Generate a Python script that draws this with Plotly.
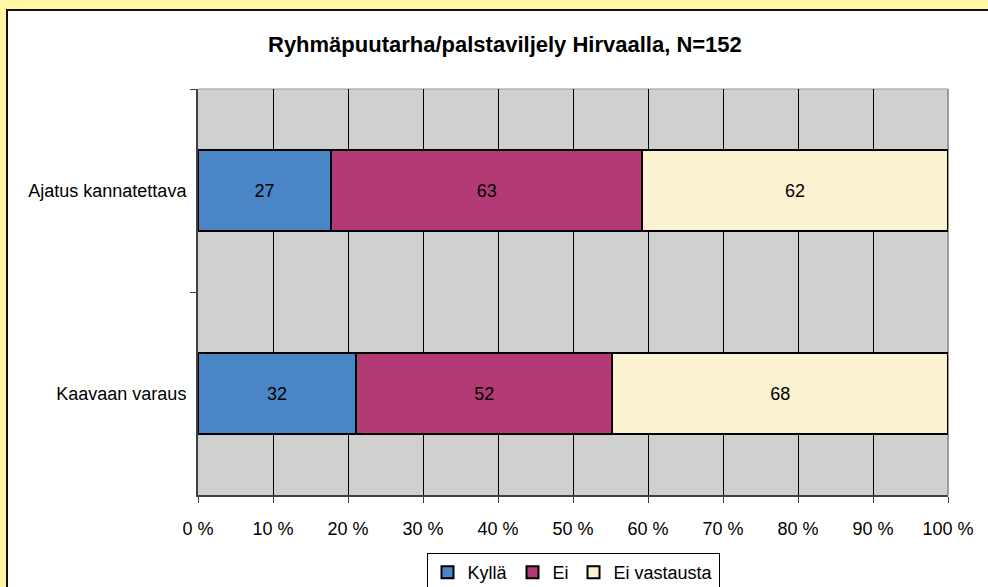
import plotly.graph_objects as go

# Survey results: community garden / allotment plots in Hirvaa (N=152)
questions = ["Ajatus kannatettava", "Kaavaan varaus"]
series_names = ["Kyllä", "Ei", "Ei vastausta"]
kylla = [27, 32]
ei = [63, 52]
ei_vastausta = [62, 68]
series_colors = ["#4A86C6", "#B33A74", "#FAF2D0"]
x_ticks = list(range(0, 101, 10))
x_tick_labels = [f"{v} %" for v in x_ticks]

title_text = "Ryhmäpuutarha/palstaviljely Hirvaalla, N=152"
FONT = "Liberation Sans, Arial, sans-serif"

W, H = 988, 587
L, R, T, B = 198, 40, 89, 92
pw, ph = W - L - R, H - T - B


def px_x(v):
    return (v - L) / pw


def px_y(v):
    return (H - B - v) / ph


fig = go.Figure()
for name, vals, col in zip(series_names, [kylla, ei, ei_vastausta], series_colors):
    fig.add_trace(go.Bar(
        name=name,
        y=questions,
        x=vals,
        orientation="h",
        width=0.4,
        marker=dict(color=col, line=dict(color="#000000", width=2)),
        text=vals,
        texttemplate="%{text}",
        textposition="inside",
        insidetextanchor="middle",
        textangle=0,
        constraintext="none",
        textfont=dict(family=FONT, size=18, color="#000000"),
        hoverinfo="skip",
    ))

shapes = [
    # white chart frame over the yellow page
    dict(type="rect", xref="paper", yref="paper", layer="below",
         x0=px_x(7), x1=px_x(1000), y0=px_y(10), y1=px_y(610),
         fillcolor="#FFFFFF", line=dict(color="#111111", width=2)),
    # grey plot area
    dict(type="rect", xref="paper", yref="paper", layer="below",
         x0=0, x1=1, y0=0, y1=1, fillcolor="#D0D0D0", line=dict(width=0)),
    # plot area top and right borders
    dict(type="line", xref="paper", yref="paper", layer="below",
         x0=0, x1=1, y0=1, y1=1, line=dict(color="#B4B4B4", width=1.5)),
    dict(type="line", xref="paper", yref="paper", layer="below",
         x0=1, x1=1, y0=0, y1=1, line=dict(color="#9A9A9A", width=2)),
]

fig.update_layout(
    width=W, height=H,
    margin=dict(l=L, r=R, t=T, b=B, pad=0, autoexpand=False),
    paper_bgcolor="#FFF7A6",
    plot_bgcolor="rgba(0,0,0,0)",
    barmode="stack",
    barnorm="percent",
    font=dict(family=FONT, size=18, color="#000000"),
    shapes=shapes,
    showlegend=True,
    legend=dict(
        orientation="h", x=0.5, xanchor="center", y=px_y(553), yanchor="top",
        bgcolor="#FFFFFF", bordercolor="#000000", borderwidth=1,
        font=dict(family=FONT, size=18, color="#000000"),
        itemwidth=30, traceorder="normal",
    ),
    annotations=[dict(
        text="<b>" + title_text + "</b>", xref="paper", yref="paper",
        x=px_x(505), y=px_y(45), xanchor="center", yanchor="middle",
        showarrow=False, font=dict(family=FONT, size=22, color="#000000"),
    )],
)

fig.update_xaxes(
    range=[0, 100], tickmode="array", tickvals=x_ticks, ticktext=x_tick_labels,
    showgrid=True, gridcolor="#000000", gridwidth=1, zeroline=False,
    showline=True, linecolor="#404040", linewidth=2,
    ticks="outside", ticklen=6, tickcolor="#404040", tickwidth=1,
    ticklabelstandoff=10,
    tickfont=dict(family=FONT, size=18, color="#000000"),
)
fig.update_yaxes(
    type="category", categoryorder="array", categoryarray=questions,
    autorange="reversed", tickson="boundaries",
    showgrid=False, zeroline=False,
    showline=True, linecolor="#404040", linewidth=2,
    ticks="outside", ticklen=6, tickcolor="#404040", tickwidth=1,
    ticklabelstandoff=6,
    tickfont=dict(family=FONT, size=18, color="#000000"),
)

fig.write_html("out.html")
